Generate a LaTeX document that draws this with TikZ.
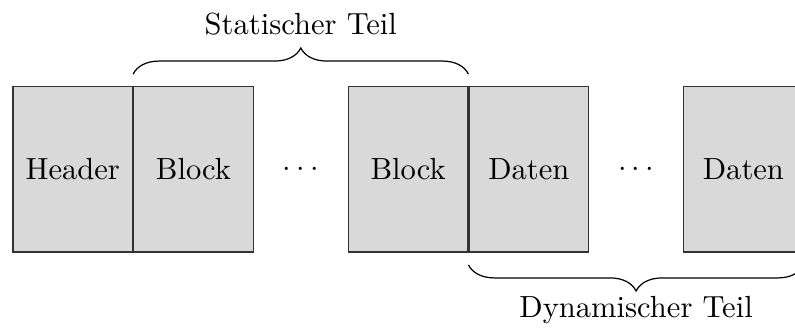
\documentclass[tikz,border=0pt]{standalone}
\definecolor{blockgray}{RGB}{217,217,217}
\usepackage{tikz}
\usetikzlibrary{positioning,decorations.pathreplacing}

\tikzset{
    field/.style={draw=black!80, fill=blockgray, minimum width=1.374cm, minimum height=1.9cm, inner sep=0pt},
    partbrace/.style={decorate, decoration={brace, amplitude=0.3cm, raise=0.14cm}}
}

\begin{document}
\begin{tikzpicture}
            \useasboundingbox (0,0) rectangle (9.1425,-3.7605);
            % Felder
            \node[field] (header) at (0.837,-1.949) {Header};
            \node[field, right=0pt of header] (block1) {Block};
            \node[field, right=1.08cm of block1] (block2) {Block};
            \node[field, right=0pt of block2] (daten1) {Daten};
            \node[field, right=1.08cm of daten1] (daten2) {Daten};
            \path (block1.east) -- node (dots1) {$\cdots$} (block2.west);
            \path (daten1.east) -- node (dots2) {$\cdots$} (daten2.west);
            % Klammern
            \draw[partbrace] (block1.north west) -- node[above=0.46cm] (statisch) {Statischer Teil} (block2.north east);
            \draw[partbrace] (daten2.south east) -- node[below=0.38cm] (dynamisch) {Dynamischer Teil} (daten1.south west);
        \end{tikzpicture}
\end{document}
